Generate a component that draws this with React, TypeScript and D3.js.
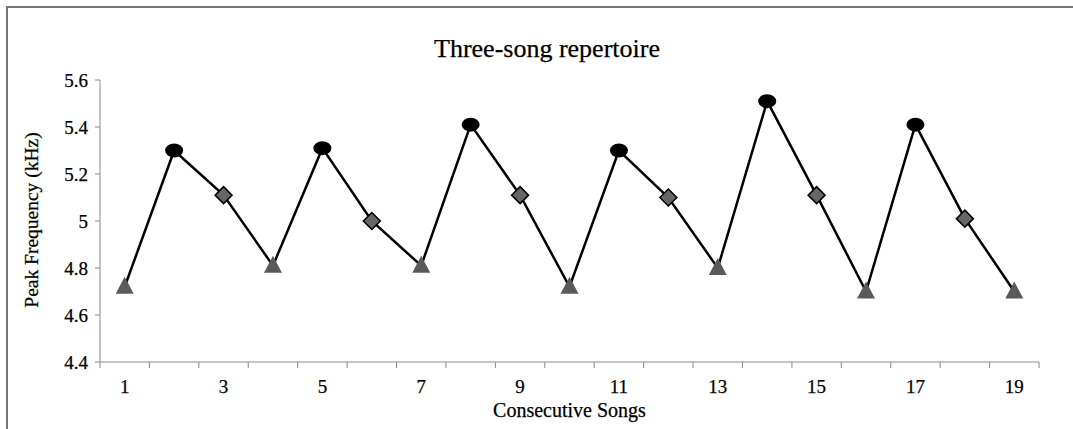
import React from "react";
import * as d3 from "d3";

const songs = d3.range(1, 20);
const peakFreq = [4.72, 5.30, 5.11, 4.81, 5.31, 5.00, 4.81, 5.41, 5.11, 4.72, 5.30, 5.10, 4.80, 5.51, 5.11, 4.70, 5.41, 5.01, 4.70];
const songType = ["tri", "circ", "diam", "tri", "circ", "diam", "tri", "circ", "diam", "tri", "circ", "diam", "tri", "circ", "diam", "tri", "circ", "diam", "tri"];
const yTicks = [4.4, 4.6, 4.8, 5, 5.2, 5.4, 5.6];
const xTickLabels = [1, 3, 5, 7, 9, 11, 13, 15, 17, 19];

const W = 1073;
const H = 429;
const left = 100, right = 1039, top = 80, bottom = 362;
const serif = "'Liberation Serif', 'Times New Roman', serif";

export default function App() {
  const x = d3.scaleBand<number>().domain(songs).range([left, right]);
  const y = d3.scaleLinear().domain([4.4, 5.6]).range([bottom, top]);
  const cx = (s: number) => (x(s) as number) + x.bandwidth() / 2;
  const line = d3.line<number>().x((_, i) => cx(songs[i])).y((d) => y(d));
  const axisColor = "#8a8a8a";
  const boundaries = d3.range(0, songs.length + 1).map((i) => left + i * x.step());
  const textStyle = { stroke: "#000", strokeWidth: 0.25 };

  return (
    <svg width={W} height={H} style={{ position: "absolute", left: 0, top: 0, background: "#fff" }}>
      <rect x={7} y={7} width={1200} height={600} fill="#fff" stroke="#777" strokeWidth={2} />
      <text x={547} y={57} textAnchor="middle" fontFamily={serif} fontSize={26} fill="#000" style={textStyle}>Three-song repertoire</text>
      {/* y axis */}
      <line x1={left} x2={left} y1={top} y2={bottom} stroke={axisColor} strokeWidth={1} />
      {yTicks.map((t) => (
        <g key={t}>
          <line x1={left - 5} x2={left} y1={y(t)} y2={y(t)} stroke={axisColor} />
          <text x={88} y={y(t)} dy="0.35em" textAnchor="end" fontFamily={serif} fontSize={19} fill="#000" style={textStyle}>{String(t)}</text>
        </g>
      ))}
      {/* x axis */}
      <line x1={left} x2={right} y1={bottom} y2={bottom} stroke={axisColor} />
      {boundaries.map((b, i) => (
        <line key={i} x1={b} x2={b} y1={bottom} y2={bottom + 6} stroke={axisColor} />
      ))}
      {xTickLabels.map((s) => (
        <text key={s} x={cx(s)} y={393} textAnchor="middle" fontFamily={serif} fontSize={19} fill="#000" style={textStyle}>{s}</text>
      ))}
      <text x={(left + right) / 2} y={417} textAnchor="middle" fontFamily={serif} fontSize={20} fill="#000" style={textStyle}>Consecutive Songs</text>
      <text transform={`translate(38, ${(top + bottom) / 2 - 1}) rotate(-90)`} textAnchor="middle" fontFamily={serif} fontSize={19.5} fill="#000" style={textStyle}>Peak Frequency (kHz)</text>
      {/* line */}
      <path d={line(peakFreq) || ""} fill="none" stroke="#000" strokeWidth={2.5} />
      {peakFreq.map((v, i) => {
        const px = cx(songs[i]);
        const py = y(v);
        const t = songType[i];
        if (t === "circ") return <ellipse key={i} cx={px} cy={py} rx={9} ry={7} fill="#000" />;
        if (t === "diam")
          return <path key={i} d={`M${px},${py - 8.5}L${px + 8.5},${py}L${px},${py + 8.5}L${px - 8.5},${py}Z`} fill="#666" stroke="#000" strokeWidth={1.5} />;
        return <path key={i} d={`M${px},${py - 10}L${px + 9},${py + 7}L${px - 9},${py + 7}Z`} fill="#5a5a5a" />;
      })}
    </svg>
  );
}
